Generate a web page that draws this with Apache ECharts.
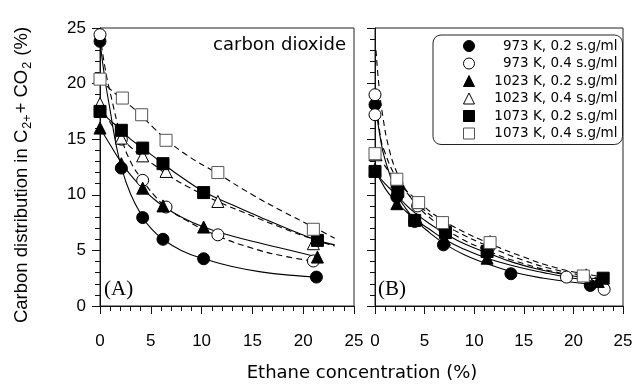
<!DOCTYPE html>
<html>
<head>
<meta charset="utf-8">
<script src="https://cdn.jsdelivr.net/npm/echarts@6/dist/echarts.min.js"></script>
<style>html,body{margin:0;padding:0;background:#fff}#c{width:638px;height:384px}</style>
</head>
<body>
<div id="c"></div>
<script>
// ---------- Data ----------
const seriesNames = ['973 K, 0.2 s.g/ml','973 K, 0.4 s.g/ml','1023 K, 0.2 s.g/ml','1023 K, 0.4 s.g/ml','1073 K, 0.2 s.g/ml','1073 K, 0.4 s.g/ml'];
const xTicks = [0,5,10,15,20,25];
const yTicks = [0,5,10,15,20,25];

// Panel A (carbon dioxide) measured points
const A_973_02_x = [0, 2.1, 4.2, 6.2, 10.2, 21.3];
const A_973_02_y = [23.8, 12.4, 7.95, 6.0, 4.25, 2.6];
const A_973_04_x = [0, 2.1, 4.2, 6.5, 11.6, 21.0];
const A_973_04_y = [24.4, 15.0, 11.3, 8.9, 6.4, 4.05];
const A_1023_02_x = [0, 2.1, 4.2, 6.2, 10.2, 21.4];
const A_1023_02_y = [16.0, 12.8, 10.6, 9.0, 7.1, 4.4];
const A_1023_04_x = [0, 2.1, 4.2, 6.5, 11.6, 21.0];
const A_1023_04_y = [18.2, 15.1, 13.5, 12.1, 9.4, 5.6];
const A_1073_02_x = [0, 2.1, 4.2, 6.2, 10.2, 21.4];
const A_1073_02_y = [17.5, 15.8, 14.2, 12.8, 10.2, 5.9];
const A_1073_04_x = [0, 2.2, 4.1, 6.5, 11.6, 21.0];
const A_1073_04_y = [20.4, 18.7, 17.2, 14.9, 12.0, 6.9];

// Panel A fitted curves
const A_fit_973_02_x = [0, 0.5, 1, 1.5, 2.1, 3, 4.2, 5, 6.2, 8, 10.2, 13, 16, 19, 21.3];
const A_fit_973_02_y = [23.8, 20.3, 17.6, 14.9, 12.5, 10.1, 8.0, 7.0, 6.0, 5.0, 4.25, 3.55, 3.05, 2.75, 2.6];
const A_fit_973_04_x = [0, 0.5, 1, 2.1, 3, 4.2, 5.3, 6.5, 8.5, 11.6, 15, 18, 21];
const A_fit_973_04_y = [24.4, 21.4, 19.2, 15.2, 13.0, 11.3, 10.0, 8.9, 7.7, 6.3, 5.2, 4.5, 4.05];
const A_fit_1023_02_x = [0, 1, 2.1, 3, 4.2, 5.2, 6.2, 8, 10.2, 13, 16, 19, 21.4];
const A_fit_1023_02_y = [16.0, 14.5, 12.9, 11.8, 10.6, 9.7, 9.0, 8.0, 7.1, 6.3, 5.6, 4.95, 4.4];
const A_fit_1023_04_x = [0, 1, 2.1, 3, 4.2, 5.3, 6.5, 8.5, 11.6, 15, 18, 21, 23.1];
const A_fit_1023_04_y = [18.2, 16.5, 15.2, 14.3, 13.4, 12.7, 11.9, 10.8, 9.4, 8.1, 7.0, 6.0, 5.4];
const A_fit_1073_02_x = [0, 1, 2.1, 3, 4.2, 5.2, 6.2, 8, 10.2, 13, 16, 19, 21.4, 23.1];
const A_fit_1073_02_y = [17.5, 16.7, 15.8, 15.0, 14.2, 13.5, 12.8, 11.6, 10.3, 9.1, 7.9, 6.75, 5.9, 5.5];
const A_fit_1073_04_x = [0, 1, 2.2, 3, 4.1, 5.3, 6.5, 8.5, 11.6, 15, 18, 21, 23.1];
const A_fit_1073_04_y = [20.4, 19.5, 18.6, 18.0, 17.1, 16.0, 15.0, 13.6, 11.9, 10.0, 8.5, 7.1, 6.1];

// Panel B measured points
const B_973_02_x = [0, 2.2, 4.0, 6.9, 13.7, 21.7];
const B_973_02_y = [18.1, 9.8, 7.6, 5.5, 2.9, 1.85];
const B_973_04_x = [0, 0, 2.2, 4.3, 7.0, 11.5, 19.3, 23.1];
const B_973_04_y = [19.0, 17.2, 11.0, 9.0, 7.0, 5.3, 2.6, 1.5];
const B_1023_02_x = [0, 2.2, 4.2, 7.0, 11.3, 22.5];
const B_1023_02_y = [12.3, 9.2, 7.8, 6.0, 4.3, 2.2];
const B_1023_04_x = [0, 2.2, 4.4, 6.9, 11.6, 21.3];
const B_1023_04_y = [13.6, 11.2, 9.3, 7.5, 5.8, 2.8];
const B_1073_02_x = [0, 2.3, 4.0, 7.1, 11.3, 23.0];
const B_1073_02_y = [12.1, 10.3, 7.7, 6.6, 4.9, 2.5];
const B_1073_04_x = [0, 2.2, 4.4, 6.8, 11.6, 21.0];
const B_1073_04_y = [13.7, 11.4, 9.3, 7.5, 5.7, 2.7];

// Panel B fitted curves
const B_fit_973_02_x = [0, 0.5, 1, 2.2, 3, 4, 5.5, 7, 9, 11, 13.7, 17, 21.7];
const B_fit_973_02_y = [18.3, 15.3, 13.2, 10.1, 8.9, 7.8, 6.6, 5.6, 4.6, 3.9, 3.1, 2.5, 1.95];
const B_fit_973_04_x = [0.1, 0.4, 0.8, 1.4, 2.2, 3, 4.3, 6, 8, 11, 15, 19, 23.1];
const B_fit_973_04_y = [23.0, 19.8, 17.0, 14.2, 12.0, 10.6, 9.0, 7.6, 6.4, 5.1, 3.8, 2.9, 2.2];
const B_fit_1023_02_x = [0, 1, 2.2, 3, 4.2, 5.5, 7, 9, 11.3, 14, 17, 20, 22.5];
const B_fit_1023_02_y = [12.4, 10.6, 9.3, 8.6, 7.7, 6.9, 6.0, 5.1, 4.3, 3.6, 3.0, 2.5, 2.2];
const B_fit_1023_04_x = [0.05, 0.5, 1, 2.2, 3, 4.4, 6, 8, 11.6, 15, 18, 21.3, 23.3];
const B_fit_1023_04_y = [19.5, 15.5, 13.8, 11.4, 10.4, 9.1, 7.9, 6.8, 5.3, 4.1, 3.3, 2.7, 2.4];
const B_fit_1073_02_x = [0, 1, 2.3, 3, 4, 5.5, 7.1, 9, 11.3, 14, 17, 20, 23.0];
const B_fit_1073_02_y = [12.1, 11.0, 9.9, 9.2, 8.4, 7.4, 6.5, 5.6, 4.8, 3.9, 3.2, 2.7, 2.4];
const B_fit_1073_04_x = [0, 1, 2.2, 3, 4.4, 6, 8, 11.6, 15, 18, 21, 23.3];
const B_fit_1073_04_y = [14.3, 12.6, 11.3, 10.5, 9.4, 8.2, 7.1, 5.6, 4.4, 3.5, 2.9, 2.6];

// ---------- Build ----------
const zip = (xs, ys) => xs.map((x, i) => [x, ys[i]]);
const markerDefs = [
  {symbol:'circle',   fill:'#000', border:'#000', size:12},
  {symbol:'circle',   fill:'#fff', border:'#000', size:12},
  {symbol:'triangle', fill:'#000', border:'#000', size:12},
  {symbol:'triangle', fill:'#fff', border:'#000', size:12},
  {symbol:'rect',     fill:'#000', border:'#000', size:12},
  {symbol:'rect',     fill:'#fff', border:'#555', size:12}
];
const panels = [
  {pts:[[A_973_02_x,A_973_02_y],[A_973_04_x,A_973_04_y],[A_1023_02_x,A_1023_02_y],[A_1023_04_x,A_1023_04_y],[A_1073_02_x,A_1073_02_y],[A_1073_04_x,A_1073_04_y]],
   fits:[[A_fit_973_02_x,A_fit_973_02_y],[A_fit_973_04_x,A_fit_973_04_y],[A_fit_1023_02_x,A_fit_1023_02_y],[A_fit_1023_04_x,A_fit_1023_04_y],[A_fit_1073_02_x,A_fit_1073_02_y],[A_fit_1073_04_x,A_fit_1073_04_y]]},
  {pts:[[B_973_02_x,B_973_02_y],[B_973_04_x,B_973_04_y],[B_1023_02_x,B_1023_02_y],[B_1023_04_x,B_1023_04_y],[B_1073_02_x,B_1073_02_y],[B_1073_04_x,B_1073_04_y]],
   fits:[[B_fit_973_02_x,B_fit_973_02_y],[B_fit_973_04_x,B_fit_973_04_y],[B_fit_1023_02_x,B_fit_1023_02_y],[B_fit_1023_04_x,B_fit_1023_04_y],[B_fit_1073_02_x,B_fit_1073_02_y],[B_fit_1073_04_x,B_fit_1073_04_y]]}
];

const series = [];
panels.forEach((p, pi) => {
  p.fits.forEach((f, i) => {
    series.push({
      type:'line', name:'fit'+pi+'_'+i, xAxisIndex:pi, yAxisIndex:pi,
      data: zip(f[0], f[1]), smooth:0.5, showSymbol:false, symbol:'none', silent:true, z:2,
      lineStyle:{color:'#000', width:1.1, type: (i % 2 === 1) ? [6,4] : 'solid'}
    });
  });
  p.pts.forEach((d, i) => {
    const m = markerDefs[i];
    series.push({
      type:'scatter', name:seriesNames[i], xAxisIndex:pi, yAxisIndex:pi,
      data: zip(d[0], d[1]), symbol:m.symbol, symbolSize:m.size, z:5,
      itemStyle:{color:m.fill, borderColor:m.border, borderWidth:1, opacity:1}
    });
  });
});

const FONT = '"Liberation Sans", Arial, sans-serif';
const WIDE = '"DejaVu Sans", Verdana, sans-serif';
function xAxis(gi){
  return {
    gridIndex:gi, type:'value', min:0, max:25, interval:5,
    axisLine:{show:true, onZero:false, lineStyle:{color:'#111', width:1}},
    axisTick:{show:true, inside:false, length:8, lineStyle:{color:'#111'}},
    minorTick:{show:true, splitNumber:5, length:5, lineStyle:{color:'#111'}},
    splitLine:{show:false},
    axisLabel:{show:true, color:'#000', fontSize:17, fontFamily:FONT, margin:27,
      formatter: v => xTicks.includes(v) ? String(v) : ''}
  };
}
function yAxis(gi, labels){
  return {
    gridIndex:gi, type:'value', min:0, max:25, interval:5,
    axisLine:{show:true, onZero:false, lineStyle:{color:'#111', width:1}},
    axisTick:{show:true, inside:false, length:8, lineStyle:{color:'#111'}},
    minorTick:{show:true, splitNumber:5, length:5, lineStyle:{color:'#111'}},
    splitLine:{show:false},
    axisLabel:{show:labels, color:'#000', fontSize:17, fontFamily:FONT, margin:14,
      formatter: v => yTicks.includes(v) ? String(v) : ''}
  };
}

const option = {
  animation:false,
  backgroundColor:'#fff',
  grid:[
    {left:100, top:28, width:254, height:278, show:true, borderColor:'#222', borderWidth:1, backgroundColor:'transparent'},
    {left:375, top:28, width:248, height:278, show:true, borderColor:'#222', borderWidth:1, backgroundColor:'transparent'}
  ],
  xAxis:[xAxis(0), xAxis(1)],
  yAxis:[yAxis(0, true), yAxis(1, false)],
  legend:{
    orient:'vertical', left:433, top:35,
    padding:[4,5,4,30], itemGap:3.5, itemWidth:11, itemHeight:11,
    borderColor:'#222', borderWidth:1, borderRadius:8, backgroundColor:'#fff',
    selectedMode:false,
    data: seriesNames.map((n, i) => ({name:n, icon:markerDefs[i].symbol,
      itemStyle:{color:markerDefs[i].fill, borderColor:markerDefs[i].border, borderWidth:1}})),
    formatter: n => '{t|' + n + '}',
    textStyle:{color:'#000', fontFamily:WIDE, fontSize:13.5,
      rich:{t:{width:138, align:'right', fontSize:13.5, fontFamily:WIDE, color:'#000', lineHeight:14.2}}}
  },
  graphic:[
    {type:'text', left:104, top:279, style:{text:'(A)', font:'21px "Liberation Serif", "Times New Roman", serif', fill:'#000'}},
    {type:'text', left:378, top:279, style:{text:'(B)', font:'21px "Liberation Serif", "Times New Roman", serif', fill:'#000'}},
    {type:'text', right:638-346, top:36, style:{text:'carbon dioxide', font:'18px ' + WIDE, fill:'#000'}},
    {type:'text', x:362, y:373, style:{text:'Ethane concentration (%)', font:'18px ' + WIDE, fill:'#000', align:'center', verticalAlign:'middle'}},
    {type:'text', x:22, y:175, rotation:Math.PI/2,
      style:{text:'{n|Carbon distribution in C}{s|2+}{n|+ CO}{s|2}{n| (%)}', align:'center', verticalAlign:'middle', fill:'#000',
        rich:{
          n:{fontSize:18.5, fontFamily:FONT, fill:'#000', lineHeight:24, verticalAlign:'middle'},
          s:{fontSize:12.5, fontFamily:FONT, fill:'#000', lineHeight:24, verticalAlign:'bottom', padding:[0,1,0,1]}
        }}}
  ],
  series: series
};

const chart = echarts.init(document.getElementById('c'), null, {renderer:'canvas'});
chart.setOption(option);
</script>
</body>
</html>
